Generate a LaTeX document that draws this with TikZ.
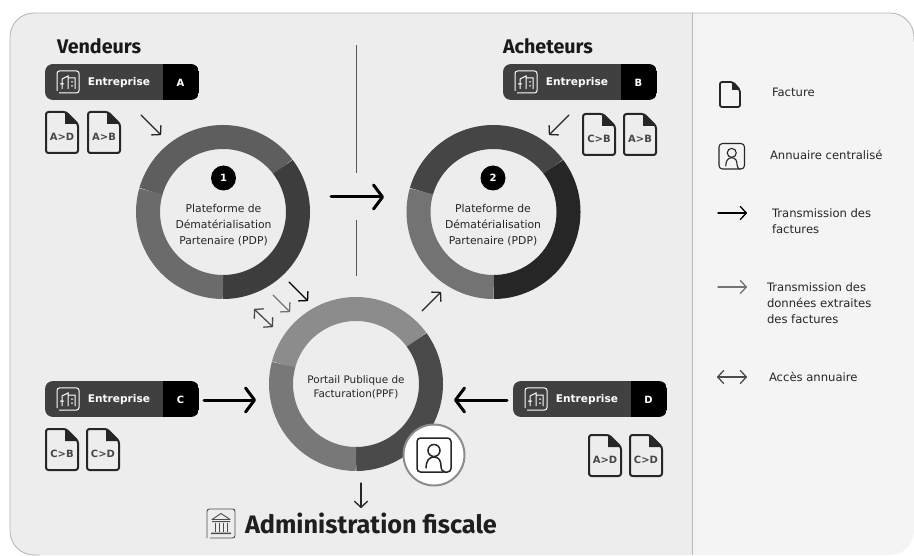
\documentclass[tikz,border=0pt]{standalone}
\usepackage{fontspec}
\setmainfont{DejaVu Sans}
\newfontfamily\headfont{Fira Sans}
\usetikzlibrary{arrows.meta}
\definecolor{pill}{HTML}{404040}
\definecolor{ink}{HTML}{262626}
\newcommand{\ringseg}[4]{\draw[line width=24pt,#4] ([shift={(#2:75pt)}]#1.center) arc[start angle=#2,end angle=#3,radius=75pt];}
\tikzset{
  x=1pt,y=-1pt,
  every node/.style={inner sep=0pt,outer sep=0pt,font=\fontsize{10.8}{16}\selectfont,text=ink},
  ring/.style={circle,minimum size=126pt,align=center},
  numdot/.style={circle,fill=black,minimum size=25pt,text=white,font=\fontsize{10}{12}\selectfont\bfseries},
  title/.style={anchor=base west,font=\headfont\fontsize{19.7}{20}\selectfont\bfseries,text=black!90},
  legend/.style={anchor=west,align=left,font=\fontsize{11.6}{16.3}\selectfont,text=ink},
  bigarrow/.style={line width=3pt,line cap=round,black,-{Straight Barb[length=9pt,width=24pt,round]}},
  smallarrow/.style={line width=1.3pt,line cap=round,ink,-{Straight Barb[length=6pt,width=13pt,round]}},
  grayarrow/.style={smallarrow,draw=black!55},
  bothways/.style={line width=1.3pt,line cap=round,draw=black!70,{Straight Barb[length=6pt,width=13pt,round]}-{Straight Barb[length=6pt,width=13pt,round]}},
  pics/doc/.style={code={
    \draw[line width=2pt,ink,line join=round,rounded corners=2.5pt] (1,1) -- (21,1) -- (33,13) -- (33,42) -- (1,42) -- cycle;
    \fill[ink] (20,1) -- (33,13) -- (20,13) -- cycle;
    \node[font=\fontsize{10}{12}\selectfont\bfseries,text=black!72] at (17,26) {#1};
  }},
  pics/plaindoc/.style={code={
    \draw[line width=1.8pt,ink,line join=round,rounded corners=2pt] (1,1) -- (14,1) -- (21,9) -- (21,26) -- (1,26) -- cycle;
    \fill[ink] (13,1) -- (21,9) -- (13,9) -- cycle;
  }},
  pics/company/.style={code={
    \begin{scope}
      \clip[rounded corners=8pt] (0,0) rectangle (154,36);
      \fill[pill] (0,0) rectangle (118,36);
      \fill[black] (118,0) rectangle (154,36);
    \end{scope}
    \draw[white,line width=1pt,rounded corners=2.5pt] (14,29) -- (34,29) -- (34,7) -- (12,7) -- (12,27);
    \draw[white,line width=1pt] (17,25) -- (17,15) -- (23,12) -- (23,25) (23,14) -- (30,14) -- (30,25) (15,20) -- (19,20) (26,18) -- (28,18) (26,22) -- (28,22);
    \node[text=white,font=\fontsize{10.6}{12}\selectfont\bfseries] at (74,18.5) {Entreprise};
    \node[text=white,font=\fontsize{10}{12}\selectfont\bfseries] at (135.5,18.5) {#1};
  }},
  pics/annuaire/.style={code={
    \draw[ink,line width=#1,rounded corners=3.5pt,line cap=round] (26,34) -- (0,34) -- (0,0) -- (34,0) -- (34,34) -- (27,34);
    \draw[ink,line width=#1] (17,12.5) circle[radius=6pt];
    \draw[ink,line width=#1,line cap=round] (9,30) .. controls (9,23) and (12,19) .. (17,19) .. controls (22,19) and (24,23) .. (24,28) .. controls (24,32) and (26,34) .. (28,34);
  }},
  pics/bank/.style={code={
    \draw[black!70,line width=.9pt,rounded corners=2.5pt] (3,29) -- (28,29) -- (28,0) -- (0,0) -- (0,29);
    \draw[black!70,line width=.9pt,line join=round] (14,4.5) -- (23,10.5) -- (5,10.5) -- cycle;
    \fill[black!70] (5,12) rectangle (23,13.2) (4,23.5) rectangle (24,25);
    \draw[black!70,line width=1pt] (8,14) -- (8,23) (12,14) -- (12,23) (16,14) -- (16,23) (20,14) -- (20,23);
  }}
}
\begin{document}
\begin{tikzpicture}
\useasboundingbox (0,0) rectangle (914,556);
% panel
\begin{scope}
  \clip[rounded corners=24pt] (10,13) rectangle (914,555);
  \fill[black!7] (10,13) rectangle (692,556);
  \fill[black!4.5] (692,13) rectangle (914,556);
\end{scope}
\draw[black!28,line width=.9pt,rounded corners=24pt] (40,555) -- (10,555) -- (10,13) -- (914,13) -- (914,42);
\draw[black!28,line width=1pt] (692.5,13) -- (692.5,555);

% separators
\coordinate (s1) at (356.5,45); \coordinate (s2) at (356.5,173);
\coordinate (s3) at (356.5,220); \coordinate (s4) at (356.5,276);
\draw[black!65,line width=1pt] (s1) -- (s2) (s3) -- (s4);

% rings
\node[ring] (r1) at (223,212) {};
\node[ring] (r2) at (493.5,212) {};
\node[ring] (r3) at (356,384) {};
\ringseg{r1}{37}{164}{black!63}
\ringseg{r1}{37}{-90}{black!76}
\ringseg{r1}{164}{270}{black!58}
\ringseg{r2}{37}{164}{black!73}
\ringseg{r2}{37}{-90}{black!85}
\ringseg{r2}{164}{270}{black!55}
\ringseg{r3}{36}{165}{black!45}
\ringseg{r3}{36}{-90}{black!71}
\ringseg{r3}{165}{270}{black!53}

\node[numdot] (n1) at (223.5,178) {1};
\node[numdot] (n2) at (493,178) {2};
\node[align=center] (t1) at (223.5,225.5) {Plateforme de\\Dématérialisation\\Partenaire (PDP)};
\node[align=center] (t2) at (493,225.5) {Plateforme de\\Dématérialisation\\Partenaire (PDP)};
\node[align=center,font=\fontsize{10.4}{14}\selectfont] (t3) at (356,387) {Portail Publique de\\Facturation(PPF)};

% annuaire badge
\node[circle,fill=white,draw=black!45,line width=2pt,minimum size=61pt] (badge) at (434,455) {};
\pic at (417,438) {annuaire=1.5pt};

% titles
\node[title] (vend) at (57,54) {Vendeurs};
\node[title] (ach) at (503,54) {Acheteurs};
\node[anchor=base west,font=\headfont\fontsize{25.3}{28}\selectfont\bfseries,text=black!88] (adm) at (245,533) {Administration fiscale};
\pic at (207,509) {bank};

% companies
\pic at (45,64) {company=A};
\pic at (503,64) {company=B};
\pic at (45,381) {company=C};
\pic at (513,381) {company=D};

% invoices
\pic at (45,111) {doc={A>D}};
\pic at (87,111) {doc={A>B}};
\pic at (582,113) {doc={C>B}};
\pic at (623,113) {doc={A>B}};
\pic at (45,428) {doc={C>B}};
\pic at (86,428) {doc={C>D}};
\pic at (588,434) {doc={A>D}};
\pic at (629,434) {doc={C>D}};

% arrows
\coordinate (a1) at (141,115); \coordinate (a2) at (161,135);
\draw[smallarrow] (a1) -- (a2);
\coordinate (b1) at (569,115); \coordinate (b2) at (549,135);
\draw[smallarrow] (b1) -- (b2);
\coordinate (m1) at (331,197); \coordinate (m2) at (384,197);
\draw[bigarrow] (m1) -- (m2);
\coordinate (p1) at (289,282); \coordinate (p2) at (308,301);
\draw[smallarrow,draw=black] (p1) -- (p2);
\coordinate (g1) at (273,295); \coordinate (g2) at (290,312);
\draw[grayarrow] (g1) -- (g2);
\coordinate (d1) at (254,309); \coordinate (d2) at (273,327);
\draw[bothways] (d1) -- (d2);
\coordinate (u1) at (422,311); \coordinate (u2) at (441,292);
\draw[smallarrow] (u1) -- (u2);
\coordinate (c1) at (204,400); \coordinate (c2) at (256,400);
\draw[bigarrow] (c1) -- (c2);
\coordinate (e1) at (507,400); \coordinate (e2) at (454,400);
\draw[bigarrow] (e1) -- (e2);
\coordinate (f1) at (361,483); \coordinate (f2) at (361,508);
\draw[smallarrow] (f1) -- (f2);

% legend
\pic at (719,81) {plaindoc};
\node[legend] (l1) at (772,92) {Facture};
\pic[scale=.75] at (719,143.5) {annuaire=1.1pt};
\node[legend] (l2) at (770,155) {Annuaire centralisé};
\coordinate (la1) at (718,213); \coordinate (la2) at (747,213);
\draw[smallarrow,draw=black] (la1) -- (la2);
\node[legend] (l3) at (772,221.5) {Transmission des\\factures};
\coordinate (lb1) at (718,287); \coordinate (lb2) at (747,287);
\draw[grayarrow] (lb1) -- (lb2);
\node[legend] (l4) at (767,303) {Transmission des\\données extraites\\des factures};
\coordinate (lc1) at (717,377); \coordinate (lc2) at (747,377);
\draw[bothways] (lc1) -- (lc2);
\node[legend] (l5) at (769,377) {Accès annuaire};
\end{tikzpicture}
\end{document}
